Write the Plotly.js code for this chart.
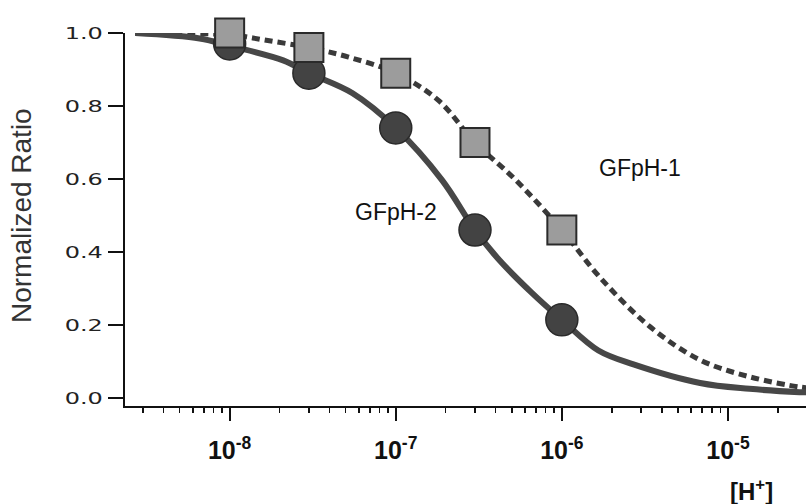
<!DOCTYPE html>
<html>
<head>
<meta charset="utf-8">
<script src="https://cdn.plot.ly/plotly-3.0.1.min.js"></script>
<style>
html,body{margin:0;padding:0;background:#fff;}
#chart{width:806px;height:504px;}
</style>
</head>
<body>
<div id="chart"></div>
<script>
// Measured points
const concH = [1e-8, 3e-8, 1e-7, 3e-7, 1e-6];
const gfph2Points = [0.97, 0.89, 0.74, 0.46, 0.214];
const gfph1Points = [1.0, 0.96, 0.89, 0.70, 0.46];

// Fitted curves
const fit2X = [2.7e-9, 6.6e-9, 1e-8, 2.1e-8, 3e-8, 5.5e-8, 1e-7, 1.9e-7, 3e-7, 4.2e-7, 6.6e-7, 1e-6, 1.66e-6, 2.7e-6, 6.8e-6, 1.35e-5, 2.7e-5, 3.2e-5];
const fit2Y = [1.0, 0.985, 0.965, 0.925, 0.89, 0.835, 0.74, 0.597, 0.46, 0.378, 0.288, 0.214, 0.13, 0.092, 0.041, 0.025, 0.016, 0.015];
const fit1X = [2.7e-9, 1e-8, 1.66e-8, 3e-8, 5.2e-8, 1e-7, 1.8e-7, 3e-7, 5.2e-7, 1e-6, 1.7e-6, 3.4e-6, 6.8e-6, 1.35e-5, 2.7e-5, 3.2e-5];
const fit1Y = [1.0, 0.995, 0.98, 0.96, 0.934, 0.89, 0.816, 0.70, 0.6, 0.46, 0.33, 0.195, 0.104, 0.058, 0.03, 0.027];

const majorTicks = [1e-8, 1e-7, 1e-6, 1e-5];
const majorText = ['<b>10<sup>-8</sup></b>', '<b>10<sup>-7</sup></b>', '<b>10<sup>-6</sup></b>', '<b>10<sup>-5</sup></b>'];
const minorTicks = [3e-9,4e-9,5e-9,6e-9,7e-9,8e-9,9e-9,
  2e-8,3e-8,4e-8,5e-8,6e-8,7e-8,8e-8,9e-8,
  2e-7,3e-7,4e-7,5e-7,6e-7,7e-7,8e-7,9e-7,
  2e-6,3e-6,4e-6,5e-6,6e-6,7e-6,8e-6,9e-6,
  2e-5,3e-5];
const yTicks = [0, 0.2, 0.4, 0.6, 0.8, 1.0];
const yText = ['0.0','0.2','0.4','0.6','0.8','1.0'];

const traces = [
  {x: fit1X, y: fit1Y, mode: 'lines', line: {color: '#3a3a3a', width: 5, dash: '8px,5px', shape: 'spline'}, hoverinfo: 'skip', cliponaxis: false},
  {x: fit2X, y: fit2Y, mode: 'lines', line: {color: '#474747', width: 6, shape: 'spline'}, hoverinfo: 'skip', cliponaxis: false},
  {x: concH, y: gfph2Points, mode: 'markers', marker: {symbol: 'circle', size: 32, color: '#434343', line: {color: '#2a2a2a', width: 1.5}}, cliponaxis: false},
  {x: concH, y: gfph1Points, mode: 'markers', marker: {symbol: 'square', size: 29, color: '#9c9c9c', line: {color: '#2a2a2a', width: 2}}, cliponaxis: false},
  {x: [1e-8], y: [0.5], xaxis: 'x2', mode: 'markers', marker: {opacity: 0}, hoverinfo: 'skip'}
];

const xr = [-8.63, -4.53];
const layout = {
  width: 806, height: 504,
  margin: {l: 125, r: 0, t: 33, b: 98},
  paper_bgcolor: '#fff', plot_bgcolor: 'rgba(0,0,0,0)',
  showlegend: false,
  font: {family: 'Liberation Sans, Arial, sans-serif', color: '#111'},
  xaxis: {
    type: 'log', range: xr, showgrid: false, zeroline: false,
    showline: true, linecolor: '#111', linewidth: 2,
    tickmode: 'array', tickvals: majorTicks, ticktext: majorText,
    ticks: 'outside', ticklen: 13, tickwidth: 2, tickcolor: '#111',
    ticklabelstandoff: 8,
    tickfont: {size: 25, family: 'Liberation Sans, Arial, sans-serif', color: '#111'}
  },
  xaxis2: {
    type: 'log', range: xr, overlaying: 'x', anchor: 'y', side: 'bottom',
    showgrid: false, zeroline: false, showline: false,
    tickmode: 'array', tickvals: minorTicks, showticklabels: false,
    ticks: 'outside', ticklen: 6, tickwidth: 1.5, tickcolor: '#111'
  },
  yaxis: {
    range: [-0.022, 1.0], showgrid: false, zeroline: false,
    showline: true, linecolor: '#111', linewidth: 2,
    tickmode: 'array', tickvals: yTicks, ticktext: yText,
    ticks: 'outside', ticklen: 15, tickwidth: 2, tickcolor: '#111',
    ticklabelstandoff: 2,
    tickfont: {size: 16, family: 'DejaVu Sans, sans-serif', color: '#222'}
  },
  annotations: [
    {text: 'GFpH-2', x: -7.0, y: 0.51, xref: 'x', yref: 'y', showarrow: false, font: {size: 23, color: '#111'}},
    {text: 'GFpH-1', x: -5.53, y: 0.63, xref: 'x', yref: 'y', showarrow: false, font: {size: 23, color: '#111'}},
    {text: '<b>[H<sup>+</sup>]</b>', x: 0.955, y: -0.27, xref: 'paper', yref: 'paper', showarrow: false, font: {size: 24, color: '#111'}},
    {text: 'Normalized Ratio', x: -0.178, y: 0.51, xref: 'paper', yref: 'paper', showarrow: false, textangle: -90, font: {size: 28, color: '#333'}}
  ]
};

Plotly.newPlot('chart', traces, layout, {staticPlot: true}).then(function(){
  document.querySelectorAll('.ytick text').forEach(function(t){
    const x = +t.getAttribute('x') || 0, y = +t.getAttribute('y') || 0;
    const prev = t.getAttribute('transform') || '';
    t.setAttribute('transform', prev + ' translate(' + x + ',' + y + ') scale(1.5,1) translate(' + (-x) + ',' + (-y) + ')');
  });
});
</script>
</body>
</html>
